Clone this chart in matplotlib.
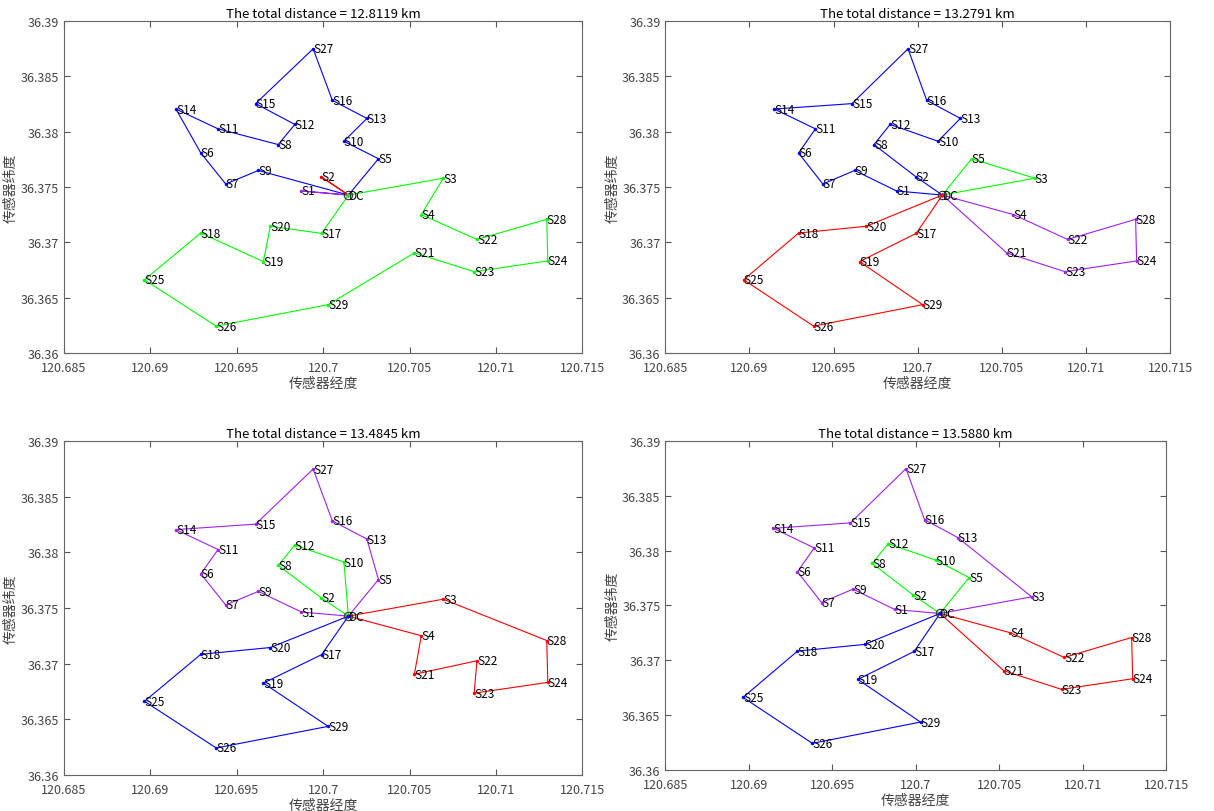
import matplotlib.pyplot as plt
import numpy as np

plt.rcParams['font.family'] = ['Noto Sans CJK SC', 'DejaVu Sans']

# node coordinates (longitude, latitude), index 0 is the DC
names = ['DC'] + ['S%d' % i for i in range(1, 30)]
lon = [120.70146,
       120.69874, 120.69987, 120.70695, 120.70568, 120.70320,
       120.69292, 120.69436, 120.69740, 120.69625, 120.70120,
       120.69392, 120.69836, 120.70253, 120.69148, 120.69609,
       120.70053, 120.69991, 120.69292, 120.69654, 120.69694,
       120.70528, 120.70890, 120.70874, 120.71300, 120.68966,
       120.69381, 120.69942, 120.71294, 120.70029]
lat = [36.37427,
       36.37464, 36.37594, 36.37579, 36.37251, 36.37755,
       36.37807, 36.37527, 36.37883, 36.37649, 36.37913,
       36.38025, 36.38065, 36.38119, 36.38204, 36.38253,
       36.38283, 36.37081, 36.37084, 36.36826, 36.37145,
       36.36905, 36.37026, 36.36735, 36.36832, 36.36662,
       36.36243, 36.38748, 36.37208, 36.36437]

titles = ['The total distance = 12.8119 km',
          'The total distance = 13.2791 km',
          'The total distance = 13.4845 km',
          'The total distance = 13.5880 km']

BLUE = '#0000ff'
RED = '#ff0000'
GREEN = '#00ff00'
PURPLE = '#a020f0'

# routes: (colour, node sequence) ; 0 = DC
routes1 = [(BLUE, [0, 5, 10, 13, 16, 27, 15, 12, 8, 11, 14, 6, 7, 9, 0]),
           (RED, [0, 2, 0]),
           (PURPLE, [0, 1, 0]),
           (GREEN, [0, 3, 4, 22, 28, 24, 23, 21, 29, 26, 25, 18, 19, 20, 17, 0])]
routes2 = [(BLUE, [0, 1, 9, 7, 6, 11, 14, 15, 27, 16, 13, 10, 12, 8, 2, 0]),
           (GREEN, [0, 5, 3, 0]),
           (PURPLE, [0, 4, 22, 28, 24, 23, 21, 0]),
           (RED, [0, 20, 18, 25, 26, 29, 19, 17, 0])]
routes3 = [(PURPLE, [0, 1, 9, 7, 6, 11, 14, 15, 27, 16, 13, 5, 0]),
           (GREEN, [0, 2, 8, 12, 10, 0]),
           (RED, [0, 3, 28, 24, 23, 22, 21, 4, 0]),
           (BLUE, [0, 20, 18, 25, 26, 29, 19, 17, 0])]
routes4 = [(PURPLE, [0, 1, 9, 7, 6, 11, 14, 15, 27, 16, 13, 3, 0]),
           (GREEN, [0, 2, 8, 12, 10, 5, 0]),
           (RED, [0, 4, 22, 28, 24, 23, 21, 0]),
           (BLUE, [0, 20, 18, 25, 26, 29, 19, 17, 0])]
all_routes = [routes1, routes2, routes3, routes4]

fig = plt.figure(figsize=(12.14, 8.12), dpi=100)
boxes = [[0.0527, 0.564, 0.427, 0.409],
         [0.548, 0.564, 0.416, 0.409],
         [0.0527, 0.0443, 0.427, 0.4114],
         [0.548, 0.0505, 0.4125, 0.4052]]

lon = np.array(lon)
lat = np.array(lat)

for k in range(4):
    ax = fig.add_axes(boxes[k])
    for color, seq in all_routes[k]:
        ax.plot(lon[seq], lat[seq], '-', color=color, lw=0.8,
                marker='.', markersize=3)
    # DC marker
    ax.plot(lon[0], lat[0], 'o', mfc='none', mec='#333333', ms=6, mew=0.8)
    for i in range(len(names)):
        ax.text(lon[i], lat[i], names[i], fontsize=8.5, ha='left',
                va='center', color='black')
    ax.set_xlim(120.685, 120.715)
    ax.set_ylim(36.36, 36.39)
    ax.set_xticks(np.arange(120.685, 120.7151, 0.005))
    ax.set_xticklabels(['120.685', '120.69', '120.695', '120.7',
                        '120.705', '120.71', '120.715'])
    ax.set_yticks(np.arange(36.36, 36.3901, 0.005))
    ax.set_yticklabels(['36.36', '36.365', '36.37', '36.375',
                        '36.38', '36.385', '36.39'])
    ax.tick_params(direction='in', top=True, right=True, length=4,
                   colors='#555555', labelsize=9, labelcolor='#444444')
    ax.tick_params(axis='x', pad=6)
    for s in ax.spines.values():
        s.set_color('#666666')
        s.set_linewidth(0.8)
    ax.set_title(titles[k], fontsize=9.5, pad=3)
    ax.set_xlabel('传感器经度', fontsize=10, color='#444444', labelpad=1)
    ax.set_ylabel('传感器纬度', fontsize=10, color='#444444', labelpad=2)

fig.savefig('out.png', dpi=100)
